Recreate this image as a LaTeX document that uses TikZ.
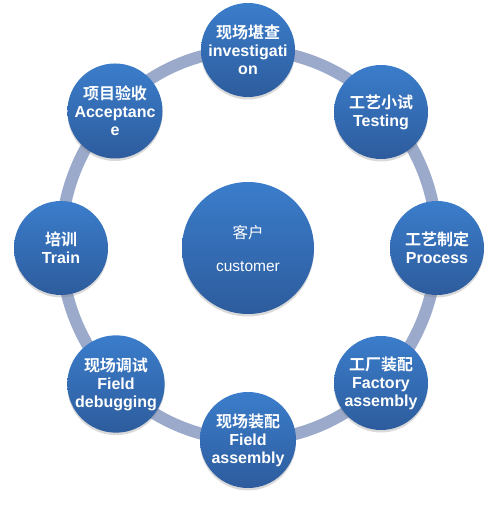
\documentclass[tikz,border=0pt]{standalone}
\usepackage{fontspec}
\setmainfont{Liberation Sans}
\newfontfamily\cjk{Noto Sans CJK SC}[BoldFont={Noto Sans CJK SC Bold}]
\usetikzlibrary{shadows}
\definecolor{ringblue}{HTML}{9BAACA}
\definecolor{balltop}{HTML}{3B7DCB}
\definecolor{ballbot}{HTML}{2D5C9D}
\tikzset{
  stage/.style={circle,minimum size=94pt,inner sep=0pt,align=center,
    top color=balltop,bottom color=ballbot,text=white,
    font=\bfseries\fontsize{16}{18}\selectfont,
    drop shadow={opacity=.3,shadow xshift=0pt,shadow yshift=-2.5pt}},
  hub/.style={stage,minimum size=132pt,font=\fontsize{15.5}{33}\selectfont}
}

\begin{document}
\begin{tikzpicture}[x=1pt,y=1pt]
      \useasboundingbox (0,0) rectangle (500,507);
      % ring
      \coordinate (ringc) at (249,262);
      \draw[ringblue,line width=12pt] (ringc) ellipse (188 and 195);
      % customer
      \node[hub] (cust) at (248,259) {{\cjk 客户}\\customer};
      % stages
      \node[stage] (inv) at (248,457) {{\cjk 现场堪查}\\investigati\\on};
      \node[stage] (test) at (381,395) {{\cjk 工艺小试}\\Testing};
      \node[stage] (proc) at (437,259) {{\cjk 工艺制定}\\Process};
      \node[stage] (fact) at (381,124) {{\cjk 工厂装配}\\Factory\\assembly};
      \node[stage,minimum size=96pt] (fasm) at (248,67) {{\cjk 现场装配}\\Field\\assembly};
      \node[stage] (fdbg) at (116,123) {{\cjk 现场调试}\\Field\\debugging};
      \node[stage] (train) at (61,259) {{\cjk 培训}\\Train};
      \node[stage] (accp) at (115,396) {{\cjk 项目验收}\\Acceptanc\\e};
\end{tikzpicture}
\end{document}
